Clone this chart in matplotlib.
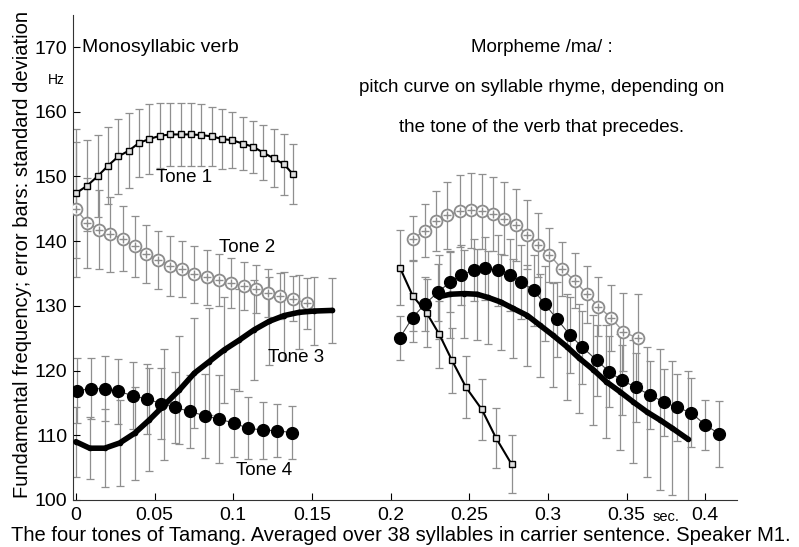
import matplotlib
matplotlib.use("Agg")
import matplotlib.pyplot as plt

plt.rcParams['font.family'] = ['Liberation Sans', 'DejaVu Sans']

# ---- verb, left part ----
t1_x = [0.0, 0.0073, 0.0141, 0.0206, 0.0270, 0.0337, 0.0402, 0.0468, 0.0535, 0.0601,
        0.0667, 0.0733, 0.0798, 0.0864, 0.0929, 0.0995, 0.1060, 0.1126, 0.1191, 0.1257,
        0.1323, 0.1378]
t1_y = [147.4, 148.6, 150.1, 151.7, 153.1, 154.0, 155.2, 155.8, 156.3, 156.5,
        156.5, 156.5, 156.4, 156.2, 155.8, 155.6, 155.1, 154.6, 153.7, 152.8,
        151.9, 150.4]
t1_sd = [10.0, 7.0, 6.3, 6.0, 5.8, 5.8, 5.3, 5.4, 5.0, 4.9,
         4.9, 4.8, 4.8, 4.6, 4.7, 4.3, 4.1, 4.0, 4.3, 4.5,
         4.7, 4.7]

t2_x = [0.0003, 0.0073, 0.0145, 0.0219, 0.0297, 0.0373, 0.0445, 0.0525, 0.0601, 0.0677,
        0.0753, 0.0832, 0.0908, 0.0985, 0.1068, 0.1144, 0.1220, 0.1296, 0.1379, 0.1467]
t2_y = [144.9, 142.8, 141.8, 141.1, 140.4, 139.2, 138.0, 137.1, 136.2, 135.7,
        134.9, 134.4, 134.0, 133.5, 133.1, 132.6, 132.0, 131.5, 131.1, 130.4]
t2_sd = [10.5, 7.0, 6.1, 5.8, 5.0, 4.7, 4.5, 4.5, 4.6, 4.4,
         4.4, 4.3, 4.0, 3.9, 3.75, 3.7, 3.7, 3.6, 3.5, 3.9]

t3_x = [0.0, 0.0088, 0.0183, 0.0278, 0.0373, 0.0468, 0.0563, 0.0658, 0.0753, 0.0848,
        0.0943, 0.1038, 0.1133, 0.1228, 0.1323, 0.1418, 0.1513, 0.1630]
t3_y = [109.0, 108.0, 108.0, 108.8, 110.3, 112.4, 114.7, 117.0, 119.6, 121.4,
        123.2, 124.7, 126.3, 127.6, 128.5, 129.0, 129.2, 129.3]
t3_sd = [5.4, 4.8, 6.0, 6.7, 7.2, 8.0, 8.6, 8.3, 8.5, 8.3,
         8.2, 7.9, 7.7, 6.8, 6.8, 5.7, 5.2, 5.0]

t4_x = [0.0010, 0.0094, 0.0187, 0.0271, 0.0363, 0.0451, 0.0544, 0.0628, 0.0724, 0.0821,
        0.0911, 0.1002, 0.1093, 0.1188, 0.1279, 0.1376]
t4_y = [116.9, 117.2, 117.2, 116.8, 116.1, 115.6, 114.9, 114.3, 113.7, 113.0,
        112.5, 111.9, 111.1, 110.8, 110.7, 110.4]
t4_sd = [5.0, 4.7, 5.0, 5.0, 5.2, 5.4, 5.5, 5.5, 5.6, 6.5,
         6.8, 5.2, 4.8, 4.4, 4.1, 4.1]

# ---- morpheme /ma/, right part ----
m1_x = [0.206, 0.214, 0.223, 0.231, 0.239, 0.248, 0.258, 0.267, 0.277]
m1_y = [135.9, 131.6, 128.9, 125.6, 121.6, 117.4, 114.0, 109.6, 105.5]
m1_sd = [5.8, 5.5, 5.3, 5.2, 5.0, 4.8, 4.7, 4.6, 4.5]

m2_x = [0.214, 0.222, 0.229, 0.236, 0.244, 0.251, 0.258, 0.265, 0.272, 0.280,
        0.287, 0.294, 0.301, 0.309, 0.317, 0.325, 0.332, 0.340, 0.348, 0.357]
m2_y = [140.4, 141.6, 143.1, 144.0, 144.7, 144.8, 144.6, 144.2, 143.5, 142.5,
        141.0, 139.4, 137.9, 135.7, 133.9, 131.8, 129.9, 128.2, 126.0, 125.0]
m2_sd = [3.5, 4.1, 4.6, 5.2, 5.6, 5.8, 5.8, 5.7, 5.7, 5.5,
         5.3, 4.9, 4.2, 4.2, 4.3, 4.4, 4.6, 5.1, 6.0, 6.9]

m3_x = [0.2305, 0.238, 0.247, 0.255, 0.262, 0.270, 0.278, 0.287, 0.295, 0.303,
        0.312, 0.320, 0.329, 0.337, 0.346, 0.354, 0.363, 0.371, 0.379, 0.389]
m3_y = [131.4, 131.8, 131.9, 131.8, 131.3, 130.6, 129.6, 128.5, 127.0, 125.5,
        123.7, 121.9, 120.1, 118.3, 116.7, 115.2, 113.6, 112.4, 111.1, 109.4]
m3_sd = [6.5, 6.7, 6.8, 7.0, 7.2, 7.4, 7.6, 7.8, 8.0, 8.1,
         8.2, 8.4, 8.5, 8.7, 9.0, 9.5, 10.0, 10.9, 10.4, 10.5]

m4_x = [0.206, 0.214, 0.222, 0.230, 0.238, 0.245, 0.253, 0.260, 0.268, 0.276,
        0.283, 0.291, 0.298, 0.306, 0.314, 0.322, 0.331, 0.339, 0.347, 0.356,
        0.365, 0.374, 0.382, 0.391, 0.400, 0.409]
m4_y = [125.1, 128.2, 130.3, 132.1, 133.7, 134.8, 135.5, 135.8, 135.5, 134.8,
        133.7, 132.4, 130.3, 127.9, 125.5, 123.6, 121.6, 119.8, 118.5, 117.4,
        116.2, 115.1, 114.3, 113.5, 111.6, 110.2]
m4_sd = [3.4, 3.8, 4.2, 4.4, 4.6, 4.6, 4.8, 4.9, 5.5, 5.6,
         5.7, 5.5, 5.8, 5.8, 5.8, 5.6, 5.5, 5.5, 5.4, 5.3,
         5.3, 5.2, 5.2, 5.3, 3.9, 5.1]

x_ticks = [0, 0.05, 0.1, 0.15, 0.2, 0.25, 0.3, 0.35, 0.4]
x_ticklabels = ['0', '0.05', '0.1', '0.15', '0.2', '0.25', '0.3', '0.35', '0.4']
y_ticks = [100, 110, 120, 130, 140, 150, 160, 170]

fig = plt.figure(figsize=(7.99, 5.47), dpi=100)
ax = fig.add_axes([0.091, 0.086, 0.831, 0.887])

bar_kw = dict(fmt='none', ecolor='#8f8f8f', elinewidth=0.9, capsize=3, capthick=0.9, zorder=1)
for xs, ys, sd in [(t1_x, t1_y, t1_sd), (t2_x, t2_y, t2_sd), (t3_x, t3_y, t3_sd), (t4_x, t4_y, t4_sd),
                   (m1_x, m1_y, m1_sd), (m2_x, m2_y, m2_sd), (m3_x, m3_y, m3_sd), (m4_x, m4_y, m4_sd)]:
    ax.errorbar(xs, ys, yerr=sd, **bar_kw)

# tone 1: squares
for xs, ys in [(t1_x, t1_y), (m1_x, m1_y)]:
    ax.plot(xs, ys, color='black', lw=1.5, marker='s', ms=5, mfc='#e0e0e0', mec='black', mew=1.0, zorder=3)

# tone 2: grey crossed circles
for xs, ys in [(t2_x, t2_y), (m2_x, m2_y)]:
    ax.plot(xs, ys, color='#9a9a9a', lw=1.0, marker='o', ms=8.5, mfc='white', mec='#8c8c8c', mew=1.3, zorder=3)
    ax.plot(xs, ys, ls='none', marker='+', ms=5.5, mec='#8c8c8c', mew=1.0, zorder=4)

# tone 3: thick black line
for xs, ys in [(t3_x, t3_y), (m3_x, m3_y)]:
    ax.plot(xs, ys, color='black', lw=4, marker='o', ms=3, solid_capstyle='round',
            solid_joinstyle='round', zorder=3)

# tone 4: big black dots
for xs, ys in [(t4_x, t4_y), (m4_x, m4_y)]:
    ax.plot(xs, ys, color='#444444', lw=0.8, marker='o', ms=8.5, mfc='black', mec='black', zorder=3)

ax.set_xlim(-0.002, 0.42)
ax.set_ylim(100, 175)
ax.set_xticks(x_ticks)
ax.set_xticklabels(x_ticklabels)
ax.set_yticks(y_ticks)
ax.tick_params(direction='in', length=5, width=0.8, labelsize=14)
ax.tick_params(axis='x', pad=5)
ax.tick_params(axis='y', pad=4)
ax.spines['top'].set_visible(False)
ax.spines['right'].set_visible(False)
for s in ['left', 'bottom']:
    ax.spines[s].set_linewidth(0.8)
    ax.spines[s].set_color('#333333')

ax.text(0.004, 170, 'Monosyllabic verb', fontsize=14, va='center', ha='left')
ax.text(0.296, 170, 'Morpheme /ma/ :', fontsize=13.5, va='center', ha='center')
ax.text(0.296, 163.7, 'pitch curve on syllable rhyme, depending on', fontsize=13.5, va='center', ha='center')
ax.text(0.296, 157.5, 'the tone of the verb that precedes.', fontsize=13.5, va='center', ha='center')

ax.text(0.0688, 149.8, 'Tone 1', fontsize=13.5, ha='center', va='center')
ax.text(0.109, 139.0, 'Tone 2', fontsize=13.5, ha='center', va='center')
ax.text(0.140, 122.0, 'Tone 3', fontsize=13.5, ha='center', va='center')
ax.text(0.1195, 104.6, 'Tone 4', fontsize=13.5, ha='center', va='center')

fig.text(0.071, 0.853, 'Hz', fontsize=10, ha='center', va='center')
fig.text(0.834, 0.055, 'sec.', fontsize=10.5, ha='center', va='center')
fig.text(0.028, 0.534, 'Fundamental frequency; error bars: standard deviation',
         fontsize=14.5, rotation=90, ha='center', va='center')
fig.text(0.502, 0.021, 'The four tones of Tamang. Averaged over 38 syllables in carrier sentence. Speaker M1.',
         fontsize=14.5, ha='center', va='center')

fig.savefig('out.png', dpi=100)
